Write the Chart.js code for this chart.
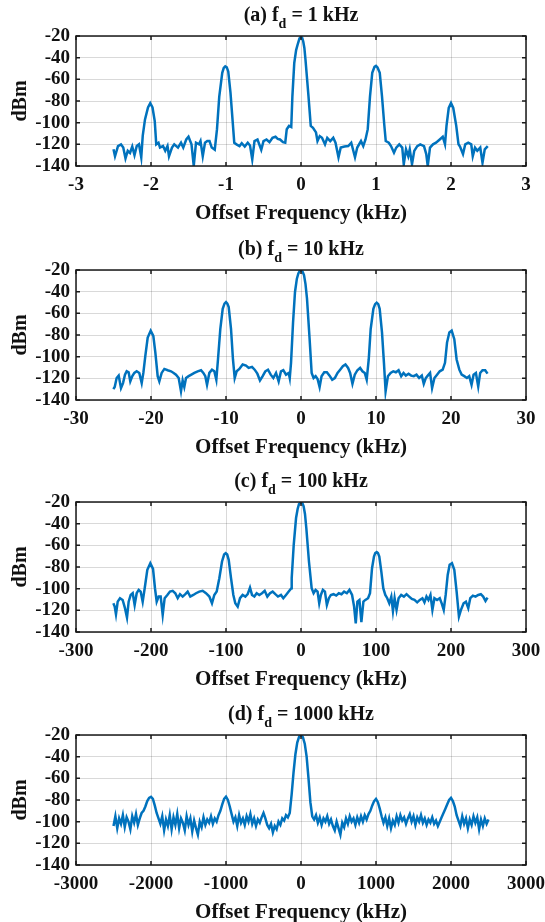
<!DOCTYPE html>
<html>
<head>
<meta charset="utf-8">
<script src="https://cdn.jsdelivr.net/npm/chart.js@4.4.1/dist/chart.umd.min.js"></script>
<style>
  html, body { margin: 0; padding: 0; background: #fff; }
  #figure { position: relative; width: 545px; height: 922px; overflow: hidden; }
  #figure canvas { position: absolute; left: 0; }
</style>
</head>
<body>
<div id="figure">
  <canvas id="panel-a" width="545" height="233" style="top:0px"></canvas>
  <canvas id="panel-b" width="545" height="233" style="top:234px"></canvas>
  <canvas id="panel-c" width="545" height="233" style="top:466px"></canvas>
  <canvas id="panel-d" width="545" height="233" style="top:699px"></canvas>
</div>
<script>
// tick labels
const dbTicks = [-140, -120, -100, -80, -60, -40, -20];
const ticksA = [-3, -2, -1, 0, 1, 2, 3];
const ticksB = [-30, -20, -10, 0, 10, 20, 30];
const ticksC = [-300, -200, -100, 0, 100, 200, 300];
const ticksD = [-3000, -2000, -1000, 0, 1000, 2000, 3000];

// spectra: [offset kHz, dBm]
const traceA = [
  [-2.50,-124.6],[-2.48,-131],[-2.44,-121.6],[-2.40,-120],[-2.37,-123],[-2.34,-133],[-2.31,-126],[-2.28,-128],
  [-2.25,-122],[-2.22,-130],[-2.19,-121.6],[-2.16,-120],[-2.13,-132],[-2.11,-112],[-2.08,-97],[-2.04,-86],
  [-2.01,-82],[-1.98,-86],[-1.95,-98.6],[-1.93,-120],[-1.90,-118.5],[-1.88,-123],[-1.84,-121.6],[-1.81,-126],
  [-1.78,-121.6],[-1.76,-131],[-1.72,-123],[-1.69,-120],[-1.64,-123],[-1.60,-118.5],[-1.57,-123],[-1.53,-115.5],
  [-1.50,-113],[-1.46,-120],[-1.43,-140],[-1.40,-118.5],[-1.36,-120],[-1.34,-117],[-1.31,-131],[-1.28,-118.5],
  [-1.25,-117],[-1.22,-117],[-1.19,-123],[-1.15,-125],[-1.12,-106],[-1.09,-76],[-1.05,-54],[-1.03,-49.5],[-1.01,-48],
  [-0.99,-49],[-0.97,-52.7],[-0.94,-72.6],[-0.91,-100],[-0.89,-118.5],[-0.86,-120],[-0.82,-121.6],[-0.79,-119],[-0.75,-122],
  [-0.71,-118.5],[-0.68,-121],[-0.65,-134],[-0.62,-117],[-0.58,-115.5],[-0.53,-125],[-0.50,-117],[-0.46,-115.5],
  [-0.42,-118],[-0.38,-114],[-0.34,-113],[-0.31,-115],[-0.28,-115.5],[-0.24,-118],[-0.21,-118.5],[-0.19,-106],
  [-0.16,-103],[-0.13,-104],[-0.115,-76],[-0.09,-45],[-0.065,-33],[-0.04,-26.7],[-0.02,-22.2],[0,-20.6],
  [0.015,-21.6],[0.03,-25],[0.045,-31],[0.06,-42],
  [0.10,-75.7],[0.13,-103],[0.16,-104.8],[0.20,-109],[0.22,-117],[0.25,-112.4],[0.28,-114],[0.32,-120],
  [0.35,-114],[0.39,-117],[0.43,-114],[0.46,-118.5],[0.50,-132],[0.53,-123],[0.58,-122],[0.63,-121.6],
  [0.67,-118.5],[0.72,-132],[0.75,-123],[0.80,-117],[0.83,-121.6],[0.86,-115.5],[0.89,-106],[0.92,-75.7],
  [0.95,-54],[0.98,-48.5],[1.00,-47.5],[1.02,-49],[1.05,-54],[1.08,-75.7],[1.11,-101.7],[1.13,-117],[1.17,-118.5],[1.20,-121.6],
  [1.24,-127.7],[1.27,-123],[1.31,-120],[1.35,-123],[1.37,-138.4],[1.40,-124.6],[1.43,-131],[1.45,-124.6],
  [1.48,-138.4],[1.51,-126],[1.55,-121.6],[1.59,-120],[1.64,-121.6],[1.67,-129],[1.69,-140],[1.72,-123],
  [1.76,-120],[1.80,-118.5],[1.85,-115.5],[1.89,-113],[1.92,-120],[1.94,-103],[1.97,-86.4],[2.00,-81.8],
  [2.03,-86.4],[2.07,-103],[2.10,-120],[2.12,-122],[2.16,-129],[2.19,-120],[2.23,-118.5],[2.27,-120],
  [2.29,-131],[2.32,-123],[2.35,-126],[2.39,-123],[2.42,-137],[2.45,-124.6],[2.49,-121.6]
];

const traceB = [
  [-25.02,-130],[-24.84,-128],[-24.58,-119.7],[-24.31,-117.5],[-24.0,-129],[-23.73,-124.4],[-23.47,-116.6],
  [-23.24,-113.5],[-22.98,-114.4],[-22.76,-122.8],[-22.49,-118],[-22.22,-115],[-21.91,-113.5],[-21.56,-115],
  [-21.24,-124.4],[-21.02,-115],[-20.76,-99.5],[-20.44,-82.3],[-20.04,-76],[-19.69,-80.8],[-19.42,-96.3],
  [-19.11,-118],[-18.89,-122.8],[-18.58,-115],[-18.22,-111.3],[-17.78,-112.5],[-17.33,-113.5],[-16.98,-115],
  [-16.67,-116.6],[-16.31,-119.7],[-16.0,-132],[-15.78,-121.9],[-15.56,-128],[-15.33,-119.7],[-14.98,-118],
  [-14.62,-116.6],[-14.22,-115],[-13.78,-113.5],[-13.33,-112.5],[-13.02,-115],[-12.76,-118],[-12.53,-126],
  [-12.22,-115],[-11.87,-112],[-11.56,-113.5],[-11.29,-121.3],[-11.07,-102.6],[-10.76,-74.5],[-10.44,-55.8],
  [-10.2,-51],[-10.0,-49.6],[-9.82,-51],[-9.64,-54.3],[-9.33,-74.5],[-9.07,-102.6],[-8.84,-119.7],[-8.58,-113.5],[-8.22,-111.3],
  [-7.78,-107.2],[-7.33,-108.2],[-6.98,-110.4],[-6.53,-109.4],[-6.18,-112],[-5.82,-115.7],[-5.47,-121.9],
  [-5.11,-118],[-4.76,-113.5],[-4.4,-112],[-4.04,-116.6],[-3.69,-119.7],[-3.33,-115],[-2.98,-122.8],
  [-2.67,-113.5],[-2.36,-112.5],[-2.0,-116.6],[-1.64,-115],[-1.5,-119.7],[-1.33,-105.7],[-1.06,-68.3],
  [-0.8,-40.3],[-0.55,-28],[-0.35,-23.1],[-0.15,-20.6],[0,-20],[0.2,-21.3],[0.4,-24.7],[0.6,-33],[0.8,-46.5],[1.15,-83.9],[1.42,-115],[1.68,-119.7],
  [1.95,-118],[2.21,-120.6],[2.48,-128],[2.74,-118],[3.1,-114.4],[3.45,-114.4],[3.81,-117.5],[4.16,-121.3],
  [4.51,-119.7],[4.87,-115],[5.22,-112],[5.58,-108.8],[5.93,-107.2],[6.28,-110.4],[6.55,-115],[6.86,-125],
  [7.17,-116.6],[7.52,-112.5],[7.88,-110.4],[8.19,-113.5],[8.5,-115],[8.76,-121.3],[9.03,-102.6],[9.29,-74.5],
  [9.65,-55.8],[9.88,-51.5],[10.09,-50.2],[10.3,-51.5],[10.49,-55.8],[10.8,-77.6],[11.06,-105.7],[11.28,-132],[11.59,-118],[11.95,-115],
  [12.3,-113.5],[12.65,-114.4],[13.01,-112.5],[13.36,-118],[13.67,-115],[13.98,-117.5],[14.34,-115.7],
  [14.69,-117.5],[15.04,-118],[15.4,-116.6],[15.75,-119.7],[16.11,-117.5],[16.37,-125],[16.64,-119.7],
  [16.9,-117.5],[17.21,-115],[17.48,-129],[17.79,-119.7],[18.14,-116.6],[18.5,-113.5],[18.89,-112],
  [19.2,-105.7],[19.47,-87],[19.78,-77.6],[20.09,-76],[20.44,-83.9],[20.75,-102.6],[21.11,-112],[21.42,-116.6],
  [21.77,-118],[22.12,-119.7],[22.43,-118],[22.74,-126],[23.01,-116.6],[23.32,-115],[23.63,-127.5],[23.89,-115],
  [24.2,-112.5],[24.56,-112.5],[24.87,-115.7]
];

const traceC = [
  [-250.2,-113.5],[-248.4,-116.6],[-246.7,-123.7],[-244.4,-112],[-241.3,-108.8],[-237.8,-110.4],[-234.7,-118],
  [-232,-126.7],[-229.8,-112],[-227.1,-105.8],[-224.4,-104.2],[-221.8,-115],[-219.1,-104.2],[-216.4,-101.1],
  [-213.8,-102.7],[-211.1,-112],[-208.4,-99.6],[-204.9,-82.6],[-200.9,-76.5],[-197.3,-81.7],[-194.7,-99.6],
  [-192.4,-112],[-189.8,-107.3],[-187.1,-107.3],[-184.4,-124.3],[-181.8,-108.8],[-178.2,-105.8],[-174.7,-102.7],
  [-171.1,-102],[-167.6,-104.2],[-164.4,-108.8],[-161.3,-105.1],[-157.8,-107.3],[-154.2,-105.1],[-151.1,-102.7],
  [-147.6,-107.3],[-143.6,-105.8],[-140,-104.2],[-135.6,-102.7],[-131.1,-102],[-126.7,-104.2],[-122.2,-107.3],
  [-118.7,-113.5],[-115.6,-105.8],[-112.4,-102.7],[-108.9,-90.3],[-105.3,-74.9],[-102.5,-68.5],[-100.4,-67.2],[-98.4,-68.5],[-96.4,-73.4],
  [-93.3,-90.3],[-90.2,-105.8],[-87.6,-113.5],[-84.4,-116.6],[-81.3,-108.8],[-77.8,-105.8],[-74.2,-107.3],
  [-71.1,-105.1],[-68,-99],[-65.3,-105.8],[-62.2,-107.3],[-59.1,-104.2],[-55.6,-105.8],[-52,-104.2],[-48.4,-102],
  [-44.9,-107.3],[-41.3,-104.2],[-37.8,-102.7],[-34.2,-105.1],[-30.7,-107.3],[-26.7,-105.8],[-23.6,-108.8],
  [-20,-105.8],[-16.4,-102.7],[-12.9,-99.6],[-12.4,-90.3],[-9.7,-59.5],[-6.6,-34.8],[-4.5,-26.5],[-2.7,-21.9],[0,-20],
  [1.8,-21],[3.5,-24],[5.3,-31],[7.1,-44.1],[10.6,-74.9],[14.2,-99.6],[16.8,-104.2],[19.5,-101.1],[22.1,-102.7],[24.3,-113.5],
  [26.5,-105.8],[29.2,-101.1],[31.9,-102.7],[34.5,-115],[37.2,-108.8],[39.8,-105.8],[43.4,-105.1],[46.9,-106.4],
  [50.4,-104.2],[54,-105.1],[57.5,-102.7],[61.1,-104.2],[64.6,-101.1],[68.1,-105.8],[70.8,-116.6],[73,-132],
  [75.2,-112],[77.9,-110.4],[80.5,-131],[83.2,-112],[85.8,-110.4],[89.4,-108.8],[92,-104.2],[94.7,-81.1],
  [97.3,-70.3],[99,-67.2],[100.9,-66.3],[102.6,-67.2],[104.4,-70.3],[107.1,-84.2],[109.7,-99.6],[112.4,-105.8],[115,-108.8],[117.7,-113.5],
  [120.4,-107.3],[122.6,-120.7],[124.8,-108.8],[127.4,-119.6],[130.1,-108.8],[133.6,-105.8],[137.2,-107.3],
  [140.7,-105.1],[144.2,-107.3],[147.8,-109.5],[151.3,-110.4],[154.9,-112.6],[158.4,-110.4],[161.9,-108.8],
  [164.6,-112.6],[167.3,-107.3],[169.9,-110.4],[172.6,-105.8],[175.2,-119.6],[177.9,-108.8],[181.4,-110.4],
  [185,-108.8],[187.6,-113.5],[190.3,-119.6],[192.9,-105.8],[195.6,-87.3],[198.2,-78],[201.3,-76.5],[204.4,-82.6],
  [207.5,-102.7],[210.6,-125.8],[213.3,-119.6],[216.8,-113.5],[219.9,-112],[223,-118],[225.7,-108.8],
  [229.2,-106.4],[232.7,-107.3],[236.3,-105.8],[239.8,-105.1],[242.9,-107.3],[246,-111.3],[248.7,-108.2]
];

const traceD = [
  [-2500,-104],[-2475,-95],[-2450,-106],[-2425,-97],[-2400,-102],[-2375,-94],[-2350,-105],[-2325,-96],
  [-2300,-100],[-2275,-107],[-2250,-95],[-2225,-101],[-2200,-93],[-2175,-103],[-2150,-97],[-2125,-92],
  [-2100,-90],[-2075,-86],[-2050,-81],[-2025,-78],[-2000,-77],[-1975,-79],[-1950,-85],[-1925,-92],[-1900,-97],
  [-1875,-102],[-1850,-95],[-1825,-108],[-1800,-98],[-1775,-104],[-1750,-94],[-1725,-107],[-1700,-96],
  [-1675,-103],[-1650,-93],[-1625,-106],[-1600,-97],[-1575,-101],[-1550,-108],[-1525,-95],[-1500,-103],
  [-1475,-97],[-1450,-109],[-1425,-99],[-1400,-106],[-1375,-112],[-1350,-100],[-1325,-105],[-1300,-96],
  [-1275,-103],[-1250,-98],[-1225,-101],[-1200,-95],[-1175,-102],[-1150,-97],[-1125,-100],
  [-1100,-94],[-1075,-90],[-1050,-84],[-1025,-79],[-1000,-77],[-975,-80],[-950,-86],[-925,-93],[-900,-100],
  [-875,-96],[-850,-104],[-825,-94],[-800,-101],[-775,-97],[-750,-103],[-725,-95],[-700,-100],[-675,-93],
  [-650,-102],[-625,-97],[-600,-104],[-575,-98],[-550,-101],[-525,-96],[-500,-92],[-475,-97],[-450,-103],
  [-425,-106],[-400,-102],[-375,-110],[-350,-104],[-325,-107],[-300,-100],[-275,-103],[-250,-97],[-225,-99],
  [-200,-94],[-175,-96],[-150,-92],[-125,-75],[-100,-55],[-75,-38],[-50,-27],[-25,-21.5],[0,-20],[25,-22],
  [50,-28],[75,-40],[100,-60],[125,-82],[150,-95],[175,-98],[200,-94],[225,-101],[250,-96],[275,-103],
  [300,-97],[325,-100],[350,-95],[375,-102],[400,-98],[425,-104],[450,-108],[475,-100],[500,-106],[525,-112],
  [550,-101],[575,-105],[600,-97],[625,-102],[650,-95],[675,-100],[700,-97],[725,-103],[750,-96],[775,-101],
  [800,-95],[825,-100],[850,-94],[875,-98],[900,-93],[925,-90],[950,-85],[975,-81],[1000,-79],[1025,-82],
  [1050,-88],[1075,-95],[1100,-101],[1125,-96],[1150,-104],[1175,-97],[1200,-106],[1225,-99],[1250,-103],
  [1275,-95],[1300,-101],[1325,-94],[1350,-99],[1375,-96],[1400,-102],[1425,-97],[1450,-93],[1475,-100],
  [1500,-95],[1525,-103],[1550,-96],[1575,-100],[1600,-94],[1625,-101],[1650,-97],[1675,-103],[1700,-98],
  [1725,-101],[1750,-96],[1775,-102],[1800,-99],[1825,-104],[1850,-100],[1875,-96],[1900,-92],[1925,-88],
  [1950,-84],[1975,-80],[2000,-78],[2025,-81],[2050,-86],[2075,-94],[2100,-99],[2125,-104],[2150,-95],
  [2175,-102],[2200,-97],[2225,-106],[2250,-98],[2275,-103],[2300,-95],[2325,-101],[2350,-96],[2375,-107],
  [2400,-98],[2425,-104],[2450,-97],[2475,-102],[2500,-98]
];

const ink = '#111';
const serif = "'Liberation Serif', 'Times New Roman', serif";
const gridColor = 'rgba(0,0,0,0.15)';

// box round the axes plus MATLAB-style inward tick marks
const framePlugin = {
    id: 'frame',
    afterDraw(chart) {
        const { ctx, chartArea: a, scales } = chart;
        ctx.save();
        ctx.strokeStyle = '#1a1a1a';
        ctx.lineWidth = 1.5;
        ctx.strokeRect(a.left, a.top, a.right - a.left, a.bottom - a.top);
        ctx.beginPath();
        scales.x.ticks.forEach(t => {
            const px = scales.x.getPixelForValue(t.value);
            ctx.moveTo(px, a.bottom); ctx.lineTo(px, a.bottom - 4);
            ctx.moveTo(px, a.top); ctx.lineTo(px, a.top + 4);
        });
        scales.y.ticks.forEach(t => {
            const py = scales.y.getPixelForValue(t.value);
            ctx.moveTo(a.left, py); ctx.lineTo(a.left + 4, py);
            ctx.moveTo(a.right, py); ctx.lineTo(a.right - 4, py);
        });
        ctx.stroke();
        ctx.restore();
    }
};

// "(a) f_d = 1 kHz" with a real subscript
const titlePlugin = {
    id: 'panelTitle',
    afterDraw(chart, args, opts) {
        const { ctx, chartArea: a } = chart;
        const head = opts.tag + ' f';
        const tail = ' = ' + opts.fd;
        ctx.save();
        ctx.fillStyle = ink;
        ctx.textBaseline = 'alphabetic';
        ctx.font = 'bold 20px ' + serif;
        const w1 = ctx.measureText(head).width;
        const w3 = ctx.measureText(tail).width;
        ctx.font = 'bold 14px ' + serif;
        const w2 = ctx.measureText('d').width;
        let x = (a.left + a.right) / 2 - (w1 + w2 + w3) / 2;
        const y = a.top - 15;
        ctx.font = 'bold 20px ' + serif;
        ctx.fillText(head, x, y);
        x += w1;
        ctx.font = 'bold 14px ' + serif;
        ctx.fillText('d', x, y + 7);
        x += w2;
        ctx.font = 'bold 20px ' + serif;
        ctx.fillText(tail, x, y);
        ctx.restore();
    }
};

function buildPanel(id, trace, xTicks, tag, fd) {
    const tickFont = { family: serif, size: 19, weight: 'bold' };
    const axisFont = { family: serif, size: 21, weight: 'bold' };
    return new Chart(document.getElementById(id), {
        type: 'line',
        data: {
            datasets: [{
                data: trace.map(p => ({ x: p[0], y: p[1] })),
                borderColor: '#0072BD',
                borderWidth: 2.5,
                pointRadius: 0,
                tension: 0
            }]
        },
        options: {
            responsive: false,
            animation: false,
            devicePixelRatio: 1,
            layout: { padding: { top: 36, right: 19, left: 0, bottom: 0 } },
            plugins: {
                legend: { display: false },
                tooltip: { enabled: false },
                panelTitle: { tag: tag, fd: fd }
            },
            scales: {
                x: {
                    type: 'linear',
                    min: xTicks[0],
                    max: xTicks[xTicks.length - 1],
                    afterBuildTicks: s => { s.ticks = xTicks.map(v => ({ value: v })); },
                    afterFit: s => { s.height = 67; s.paddingLeft = 0; s.paddingRight = 0; },
                    grid: { color: gridColor, drawTicks: false },
                    border: { display: false },
                    ticks: { color: ink, font: tickFont, padding: 8, maxRotation: 0, autoSkip: false, callback: v => String(v) },
                    title: { display: true, text: 'Offset Frequency (kHz)', color: ink, font: axisFont, padding: { top: 0, bottom: 7 } }
                },
                y: {
                    min: dbTicks[0],
                    max: dbTicks[dbTicks.length - 1],
                    afterBuildTicks: s => { s.ticks = dbTicks.map(v => ({ value: v })); },
                    afterFit: s => { s.width = 76; s.paddingTop = 0; s.paddingBottom = 0; },
                    grid: { color: gridColor, drawTicks: false },
                    border: { display: false },
                    ticks: { color: ink, font: tickFont, padding: 6, autoSkip: false, callback: v => String(v) },
                    title: { display: true, text: 'dBm', color: ink, font: { family: serif, size: 20, weight: 'bold' }, padding: { top: 9, bottom: 0 } }
                }
            }
        },
        plugins: [framePlugin, titlePlugin]
    });
}

buildPanel('panel-a', traceA, ticksA, '(a)', '1 kHz');
buildPanel('panel-b', traceB, ticksB, '(b)', '10 kHz');
buildPanel('panel-c', traceC, ticksC, '(c)', '100 kHz');
buildPanel('panel-d', traceD, ticksD, '(d)', '1000 kHz');
</script>
</body>
</html>
